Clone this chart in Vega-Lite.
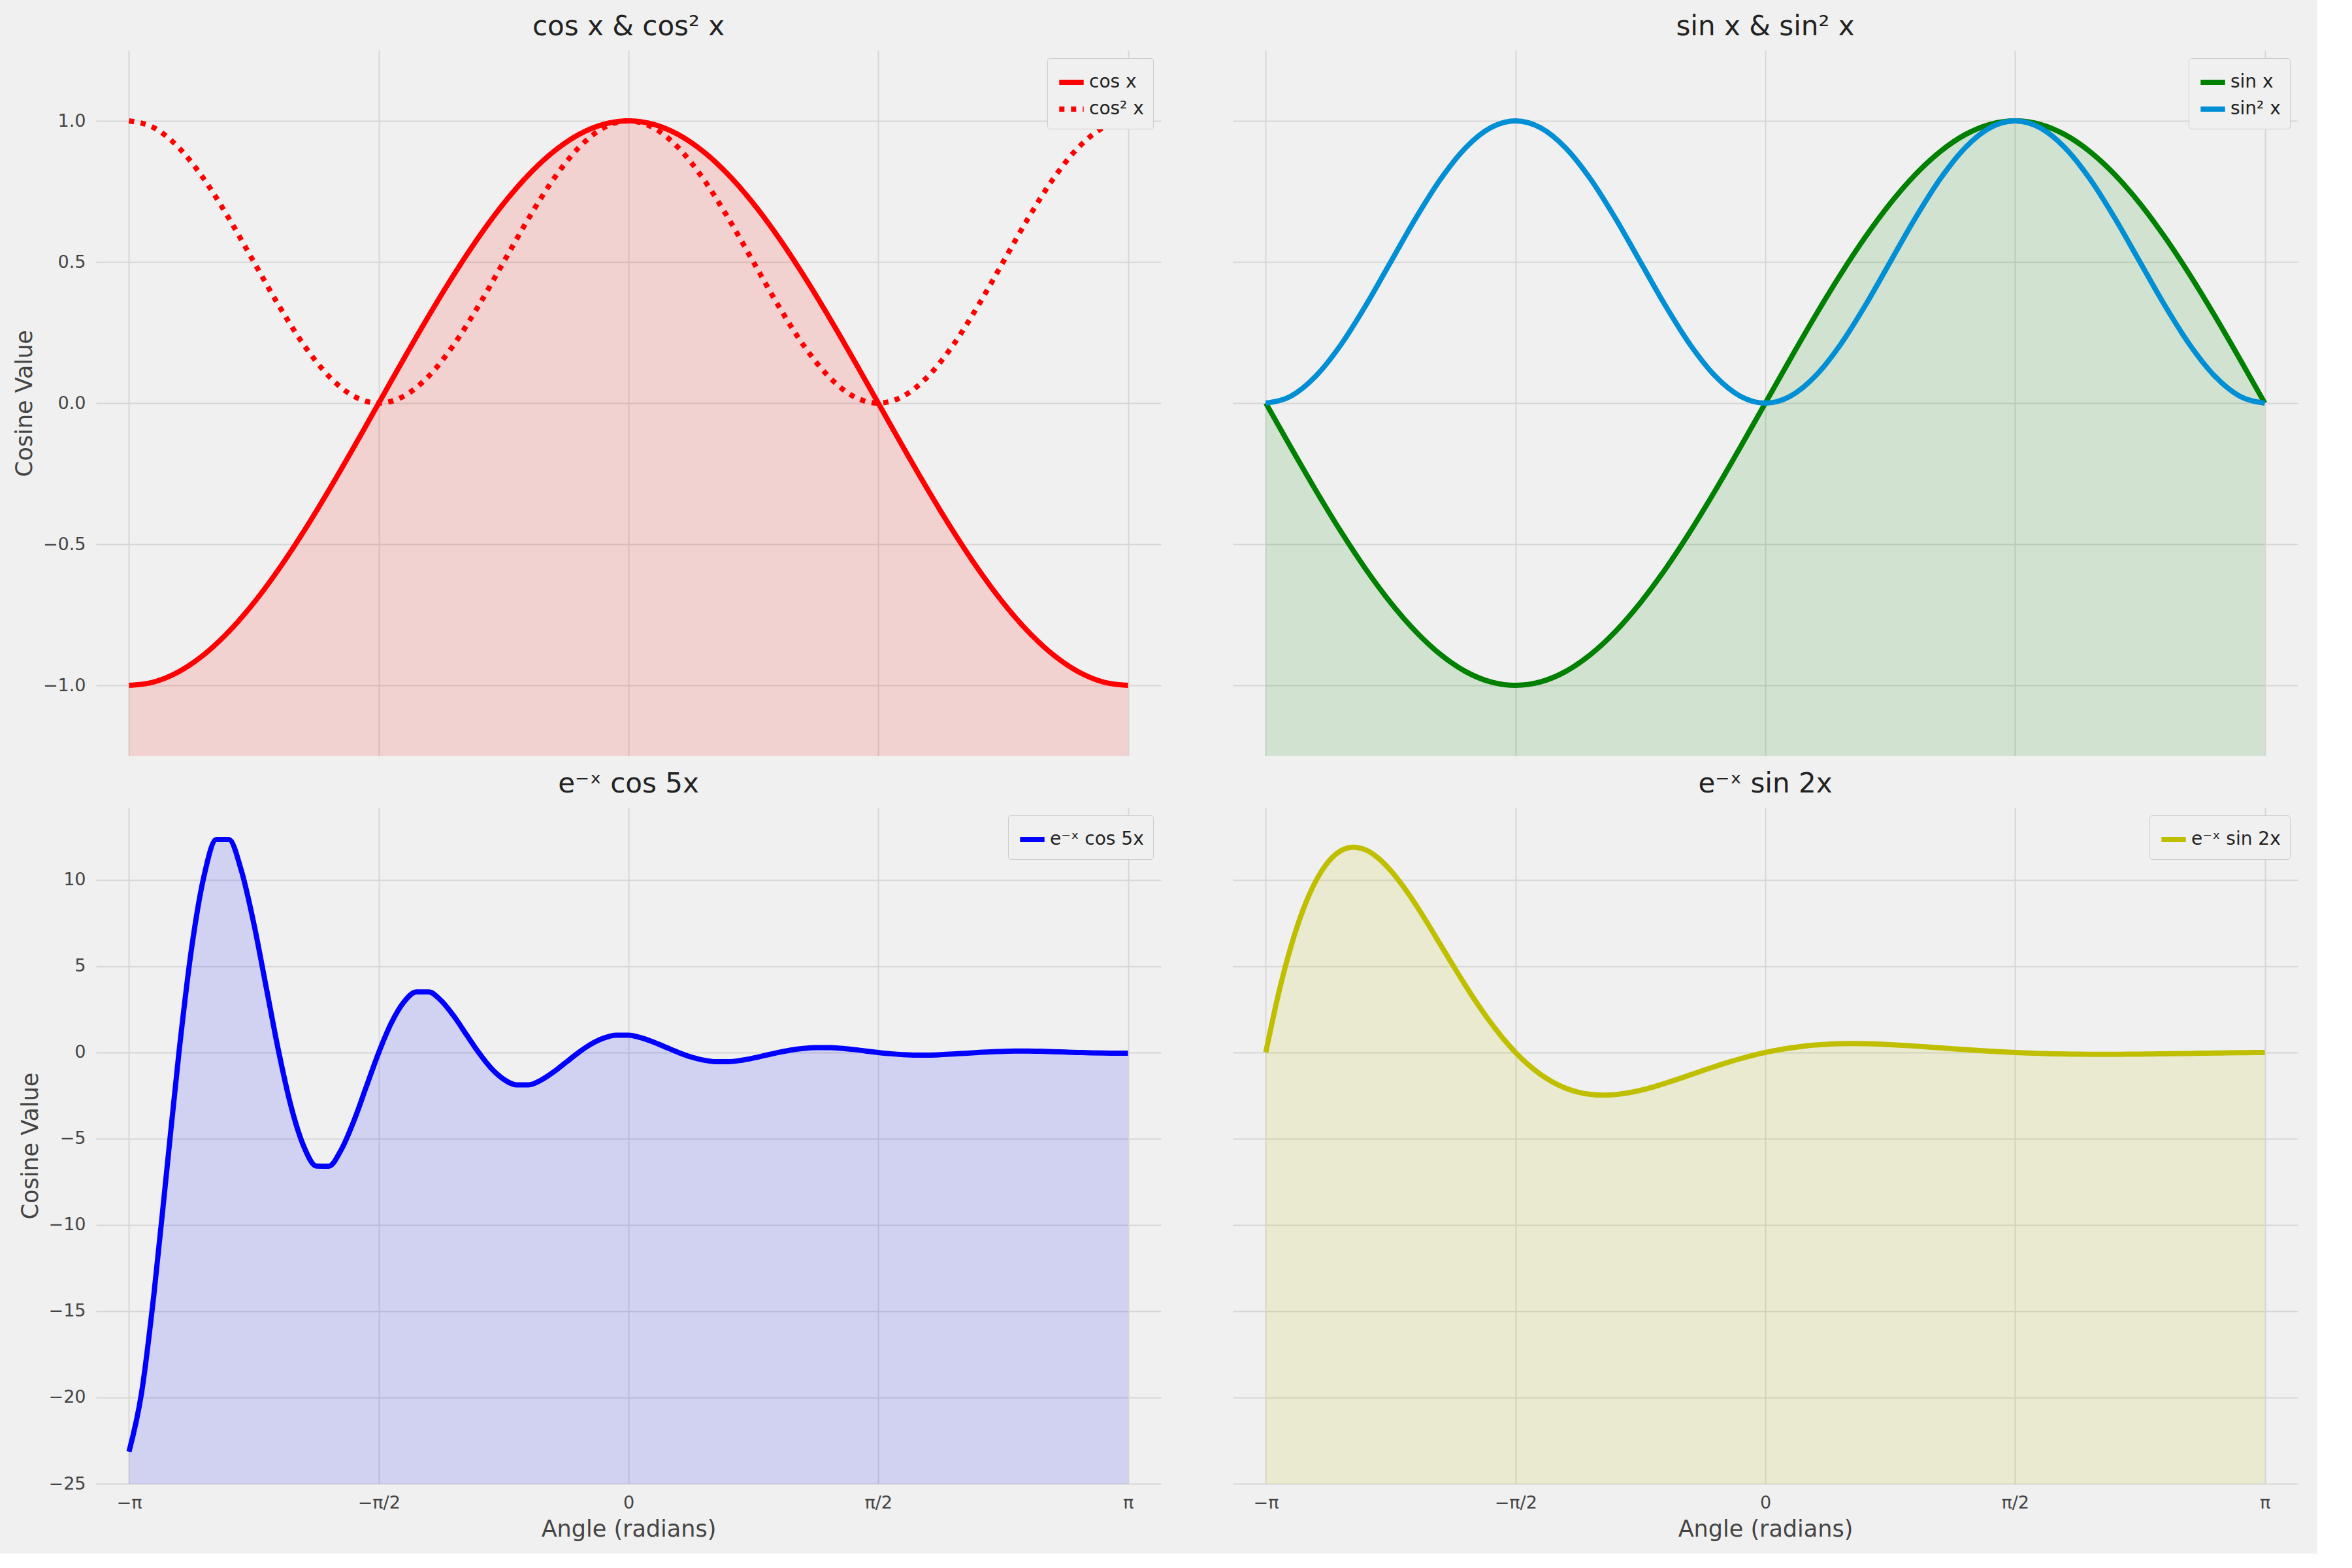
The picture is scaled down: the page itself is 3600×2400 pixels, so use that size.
{
  "$schema": "https://vega.github.io/schema/vega-lite/v6.json",
  "background": "#f0f0f0",
  "padding": {"left": 20, "top": 20, "right": 30, "bottom": 20},
  "datasets": {
    "trig": [
      {"t": -1, "cos": -1, "cos2": 1, "sin": 0, "sin2": 0},
      {"t": -0.95, "cos": -0.9877, "cos2": 0.9755, "sin": -0.1564, "sin2": 0.0245},
      {"t": -0.9, "cos": -0.9511, "cos2": 0.9045, "sin": -0.309, "sin2": 0.0955},
      {"t": -0.85, "cos": -0.891, "cos2": 0.7939, "sin": -0.454, "sin2": 0.2061},
      {"t": -0.8, "cos": -0.809, "cos2": 0.6545, "sin": -0.5878, "sin2": 0.3455},
      {"t": -0.75, "cos": -0.7071, "cos2": 0.5, "sin": -0.7071, "sin2": 0.5},
      {"t": -0.7, "cos": -0.5878, "cos2": 0.3455, "sin": -0.809, "sin2": 0.6545},
      {"t": -0.65, "cos": -0.454, "cos2": 0.2061, "sin": -0.891, "sin2": 0.7939},
      {"t": -0.6, "cos": -0.309, "cos2": 0.0955, "sin": -0.9511, "sin2": 0.9045},
      {"t": -0.55, "cos": -0.1564, "cos2": 0.0245, "sin": -0.9877, "sin2": 0.9755},
      {"t": -0.5, "cos": 0, "cos2": 0, "sin": -1, "sin2": 1},
      {"t": -0.45, "cos": 0.1564, "cos2": 0.0245, "sin": -0.9877, "sin2": 0.9755},
      {"t": -0.4, "cos": 0.309, "cos2": 0.0955, "sin": -0.9511, "sin2": 0.9045},
      {"t": -0.35, "cos": 0.454, "cos2": 0.2061, "sin": -0.891, "sin2": 0.7939},
      {"t": -0.3, "cos": 0.5878, "cos2": 0.3455, "sin": -0.809, "sin2": 0.6545},
      {"t": -0.25, "cos": 0.7071, "cos2": 0.5, "sin": -0.7071, "sin2": 0.5},
      {"t": -0.2, "cos": 0.809, "cos2": 0.6545, "sin": -0.5878, "sin2": 0.3455},
      {"t": -0.15, "cos": 0.891, "cos2": 0.7939, "sin": -0.454, "sin2": 0.2061},
      {"t": -0.1, "cos": 0.9511, "cos2": 0.9045, "sin": -0.309, "sin2": 0.0955},
      {"t": -0.05, "cos": 0.9877, "cos2": 0.9755, "sin": -0.1564, "sin2": 0.0245},
      {"t": 0, "cos": 1, "cos2": 1, "sin": 0, "sin2": 0},
      {"t": 0.05, "cos": 0.9877, "cos2": 0.9755, "sin": 0.1564, "sin2": 0.0245},
      {"t": 0.1, "cos": 0.9511, "cos2": 0.9045, "sin": 0.309, "sin2": 0.0955},
      {"t": 0.15, "cos": 0.891, "cos2": 0.7939, "sin": 0.454, "sin2": 0.2061},
      {"t": 0.2, "cos": 0.809, "cos2": 0.6545, "sin": 0.5878, "sin2": 0.3455},
      {"t": 0.25, "cos": 0.7071, "cos2": 0.5, "sin": 0.7071, "sin2": 0.5},
      {"t": 0.3, "cos": 0.5878, "cos2": 0.3455, "sin": 0.809, "sin2": 0.6545},
      {"t": 0.35, "cos": 0.454, "cos2": 0.2061, "sin": 0.891, "sin2": 0.7939},
      {"t": 0.4, "cos": 0.309, "cos2": 0.0955, "sin": 0.9511, "sin2": 0.9045},
      {"t": 0.45, "cos": 0.1564, "cos2": 0.0245, "sin": 0.9877, "sin2": 0.9755},
      {"t": 0.5, "cos": 0, "cos2": 0, "sin": 1, "sin2": 1},
      {"t": 0.55, "cos": -0.1564, "cos2": 0.0245, "sin": 0.9877, "sin2": 0.9755},
      {"t": 0.6, "cos": -0.309, "cos2": 0.0955, "sin": 0.9511, "sin2": 0.9045},
      {"t": 0.65, "cos": -0.454, "cos2": 0.2061, "sin": 0.891, "sin2": 0.7939},
      {"t": 0.7, "cos": -0.5878, "cos2": 0.3455, "sin": 0.809, "sin2": 0.6545},
      {"t": 0.75, "cos": -0.7071, "cos2": 0.5, "sin": 0.7071, "sin2": 0.5},
      {"t": 0.8, "cos": -0.809, "cos2": 0.6545, "sin": 0.5878, "sin2": 0.3455},
      {"t": 0.85, "cos": -0.891, "cos2": 0.7939, "sin": 0.454, "sin2": 0.2061},
      {"t": 0.9, "cos": -0.9511, "cos2": 0.9045, "sin": 0.309, "sin2": 0.0955},
      {"t": 0.95, "cos": -0.9877, "cos2": 0.9755, "sin": 0.1564, "sin2": 0.0245},
      {"t": 1, "cos": -1, "cos2": 1, "sin": 0, "sin2": 0}
    ],
    "damped": [
      {"t": -1, "f": -23.14, "g": 0},
      {"t": -0.975, "f": -19.76, "g": 3.35},
      {"t": -0.95, "f": -13.98, "g": 6.11},
      {"t": -0.925, "f": -7.0, "g": 8.3},
      {"t": -0.9, "f": 0, "g": 9.93},
      {"t": -0.875, "f": 5.98, "g": 11.05},
      {"t": -0.85, "f": 10.21, "g": 11.69},
      {"t": -0.825, "f": 12.34, "g": 11.9},
      {"t": -0.8, "f": 12.34, "g": 11.74},
      {"t": -0.775, "f": 10.54, "g": 11.27},
      {"t": -0.75, "f": 7.46, "g": 10.55},
      {"t": -0.725, "f": 3.73, "g": 9.63},
      {"t": -0.7, "f": 0, "g": 8.58},
      {"t": -0.675, "f": -3.19, "g": 7.43},
      {"t": -0.65, "f": -5.45, "g": 6.23},
      {"t": -0.625, "f": -6.58, "g": 5.04},
      {"t": -0.6, "f": -6.59, "g": 3.87},
      {"t": -0.575, "f": -5.63, "g": 2.76},
      {"t": -0.55, "f": -3.98, "g": 1.74},
      {"t": -0.525, "f": -1.99, "g": 0.814},
      {"t": -0.5, "f": 0, "g": 0},
      {"t": -0.475, "f": 1.7, "g": -0.696},
      {"t": -0.45, "f": 2.91, "g": -1.27},
      {"t": -0.425, "f": 3.51, "g": -1.725},
      {"t": -0.4, "f": 3.51, "g": -2.065},
      {"t": -0.375, "f": 3.0, "g": -2.297},
      {"t": -0.35, "f": 2.12, "g": -2.429},
      {"t": -0.325, "f": 1.06, "g": -2.473},
      {"t": -0.3, "f": 0, "g": -2.441},
      {"t": -0.275, "f": -0.908, "g": -2.343},
      {"t": -0.25, "f": -1.551, "g": -2.193},
      {"t": -0.225, "f": -1.873, "g": -2.003},
      {"t": -0.2, "f": -1.875, "g": -1.783},
      {"t": -0.175, "f": -1.601, "g": -1.544},
      {"t": -0.15, "f": -1.133, "g": -1.296},
      {"t": -0.125, "f": -0.567, "g": -1.047},
      {"t": -0.1, "f": 0, "g": -0.805},
      {"t": -0.075, "f": 0.484, "g": -0.575},
      {"t": -0.05, "f": 0.827, "g": -0.362},
      {"t": -0.025, "f": 0.999, "g": -0.169},
      {"t": 0, "f": 1, "g": 0},
      {"t": 0.025, "f": 0.854, "g": 0.145},
      {"t": 0.05, "f": 0.604, "g": 0.264},
      {"t": 0.075, "f": 0.302, "g": 0.359},
      {"t": 0.1, "f": 0, "g": 0.429},
      {"t": 0.125, "f": -0.258, "g": 0.477},
      {"t": 0.15, "f": -0.441, "g": 0.505},
      {"t": 0.175, "f": -0.533, "g": 0.514},
      {"t": 0.2, "f": -0.533, "g": 0.507},
      {"t": 0.225, "f": -0.456, "g": 0.487},
      {"t": 0.25, "f": -0.322, "g": 0.456},
      {"t": 0.275, "f": -0.161, "g": 0.416},
      {"t": 0.3, "f": 0, "g": 0.371},
      {"t": 0.325, "f": 0.138, "g": 0.321},
      {"t": 0.35, "f": 0.235, "g": 0.269},
      {"t": 0.375, "f": 0.284, "g": 0.218},
      {"t": 0.4, "f": 0.285, "g": 0.167},
      {"t": 0.425, "f": 0.243, "g": 0.119},
      {"t": 0.45, "f": 0.172, "g": 0.075},
      {"t": 0.475, "f": 0.086, "g": 0.035},
      {"t": 0.5, "f": 0, "g": 0},
      {"t": 0.525, "f": -0.074, "g": -0.03},
      {"t": 0.55, "f": -0.126, "g": -0.055},
      {"t": 0.575, "f": -0.152, "g": -0.075},
      {"t": 0.6, "f": -0.152, "g": -0.089},
      {"t": 0.625, "f": -0.13, "g": -0.099},
      {"t": 0.65, "f": -0.092, "g": -0.105},
      {"t": 0.675, "f": -0.046, "g": -0.107},
      {"t": 0.7, "f": 0, "g": -0.105},
      {"t": 0.725, "f": 0.039, "g": -0.101},
      {"t": 0.75, "f": 0.067, "g": -0.095},
      {"t": 0.775, "f": 0.081, "g": -0.087},
      {"t": 0.8, "f": 0.081, "g": -0.077},
      {"t": 0.825, "f": 0.069, "g": -0.067},
      {"t": 0.85, "f": 0.049, "g": -0.056},
      {"t": 0.875, "f": 0.024, "g": -0.045},
      {"t": 0.9, "f": 0, "g": -0.035},
      {"t": 0.925, "f": -0.021, "g": -0.025},
      {"t": 0.95, "f": -0.036, "g": -0.016},
      {"t": 0.975, "f": -0.043, "g": -0.007},
      {"t": 1, "f": -0.043, "g": 0}
    ]
  },
  "columns": 2,
  "spacing": {"column": 110, "row": 22},
  "resolve": {"scale": {"color": "independent", "strokeDash": "independent", "y": "independent", "x": "independent"}, "legend": {"color": "independent", "strokeDash": "independent"}},
  "concat": [
    {
      "title": "cos x & cos² x",
      "width": 1630, "height": 1080,
      "data": {"name": "trig"},
      "encoding": {
        "x": {"field": "t", "type": "quantitative", "scale": {"domain": [-1.066, 1.066], "nice": false}, "axis": {"values": [-1, -0.5, 0, 0.5, 1], "labels": false, "title": null}}
      },
      "layer": [
        {"mark": {"type": "area", "color": "#ff0000", "opacity": 0.13, "clip": true, "interpolate": "monotone"},
         "encoding": {"y": {"field": "cos", "type": "quantitative", "scale": {"domain": [-1.25, 1.25], "nice": false}, "axis": {"values": [-1, -0.5, 0, 0.5, 1], "format": ".1f", "title": "Cosine Value"}}, "y2": {"datum": -1.25}}},
        {"transform": [{"fold": ["cos", "cos2"], "as": ["series", "value"]}],
         "mark": {"type": "line", "strokeWidth": 8, "clip": true, "interpolate": "monotone"},
         "encoding": {
           "y": {"field": "value", "type": "quantitative"},
           "color": {"field": "series", "type": "nominal", "scale": {"domain": ["cos", "cos2"], "range": ["#ff0000", "#ff0000"]}, "legend": {"labelExpr": "datum.label == 'cos' ? 'cos x' : 'cos² x'"}},
           "strokeDash": {"field": "series", "type": "nominal", "scale": {"domain": ["cos", "cos2"], "range": [[1, 0], [8, 10]]}, "legend": {"labelExpr": "datum.label == 'cos' ? 'cos x' : 'cos² x'"}}
         }}
      ]
    },
    {
      "title": "sin x & sin² x",
      "width": 1630, "height": 1080,
      "data": {"name": "trig"},
      "encoding": {
        "x": {"field": "t", "type": "quantitative", "scale": {"domain": [-1.066, 1.066], "nice": false}, "axis": {"values": [-1, -0.5, 0, 0.5, 1], "labels": false, "title": null}}
      },
      "layer": [
        {"mark": {"type": "area", "color": "#008000", "opacity": 0.13, "clip": true, "interpolate": "monotone"},
         "encoding": {"y": {"field": "sin", "type": "quantitative", "scale": {"domain": [-1.25, 1.25], "nice": false}, "axis": {"values": [-1, -0.5, 0, 0.5, 1], "labels": false, "title": null}}, "y2": {"datum": -1.25}}},
        {"transform": [{"fold": ["sin", "sin2"], "as": ["series", "value"]}],
         "mark": {"type": "line", "strokeWidth": 8, "clip": true, "interpolate": "monotone"},
         "encoding": {
           "y": {"field": "value", "type": "quantitative"},
           "color": {"field": "series", "type": "nominal", "scale": {"domain": ["sin", "sin2"], "range": ["#008000", "#008fd5"]}, "legend": {"labelExpr": "datum.label == 'sin' ? 'sin x' : 'sin² x'"}}
         }}
      ]
    },
    {
      "title": "e⁻ˣ cos 5x",
      "width": 1630, "height": 1035,
      "data": {"name": "damped"},
      "encoding": {
        "x": {"field": "t", "type": "quantitative", "scale": {"domain": [-1.066, 1.066], "nice": false}, "axis": {"values": [-1, -0.5, 0, 0.5, 1], "labelExpr": "datum.value == -1 ? '−π' : datum.value == -0.5 ? '−π/2' : datum.value == 0 ? '0' : datum.value == 0.5 ? 'π/2' : 'π'", "title": "Angle (radians)"}}
      },
      "layer": [
        {"mark": {"type": "area", "color": "#0000ff", "opacity": 0.13, "clip": true, "interpolate": "monotone"},
         "encoding": {"y": {"field": "f", "type": "quantitative", "scale": {"domain": [-25, 14.2], "nice": false}, "axis": {"values": [-25, -20, -15, -10, -5, 0, 5, 10], "title": "Cosine Value"}}, "y2": {"datum": -25}}},
        {"transform": [{"fold": ["f"], "as": ["series", "value"]}],
         "mark": {"type": "line", "strokeWidth": 8, "clip": true, "interpolate": "monotone"},
         "encoding": {
           "y": {"field": "value", "type": "quantitative"},
           "color": {"field": "series", "type": "nominal", "scale": {"domain": ["f"], "range": ["#0000ff"]}, "legend": {"labelExpr": "'e⁻ˣ cos 5x'"}}
         }}
      ]
    },
    {
      "title": "e⁻ˣ sin 2x",
      "width": 1630, "height": 1035,
      "data": {"name": "damped"},
      "encoding": {
        "x": {"field": "t", "type": "quantitative", "scale": {"domain": [-1.066, 1.066], "nice": false}, "axis": {"values": [-1, -0.5, 0, 0.5, 1], "labelExpr": "datum.value == -1 ? '−π' : datum.value == -0.5 ? '−π/2' : datum.value == 0 ? '0' : datum.value == 0.5 ? 'π/2' : 'π'", "title": "Angle (radians)"}}
      },
      "layer": [
        {"mark": {"type": "area", "color": "#bfbf00", "opacity": 0.13, "clip": true, "interpolate": "monotone"},
         "encoding": {"y": {"field": "g", "type": "quantitative", "scale": {"domain": [-25, 14.2], "nice": false}, "axis": {"values": [-25, -20, -15, -10, -5, 0, 5, 10], "labels": false, "title": null}}, "y2": {"datum": -25}}},
        {"transform": [{"fold": ["g"], "as": ["series", "value"]}],
         "mark": {"type": "line", "strokeWidth": 8, "clip": true, "interpolate": "monotone"},
         "encoding": {
           "y": {"field": "value", "type": "quantitative"},
           "color": {"field": "series", "type": "nominal", "scale": {"domain": ["g"], "range": ["#bfbf00"]}, "legend": {"labelExpr": "'e⁻ˣ sin 2x'"}}
         }}
      ]
    }
  ],
  "config": {
    "font": "DejaVu Sans",
    "view": {"stroke": null},
    "title": {"fontSize": 42, "fontWeight": "normal", "color": "#222222", "offset": 14},
    "axis": {"domain": false, "ticks": false, "grid": true, "gridColor": "#d6d6d6", "gridWidth": 2, "labelFontSize": 27, "labelColor": "#444444", "labelPadding": 16, "titleFontSize": 35, "titleFontWeight": "normal", "titleColor": "#444444", "titlePadding": 10},
    "legend": {"orient": "top-right", "title": null, "fillColor": "#f0f0f0", "strokeColor": "#cccccc", "padding": 14, "offset": 12, "labelFontSize": 28, "labelColor": "#222222", "symbolType": "stroke", "symbolStrokeWidth": 8, "symbolSize": 1400, "cornerRadius": 4}
  }
}
